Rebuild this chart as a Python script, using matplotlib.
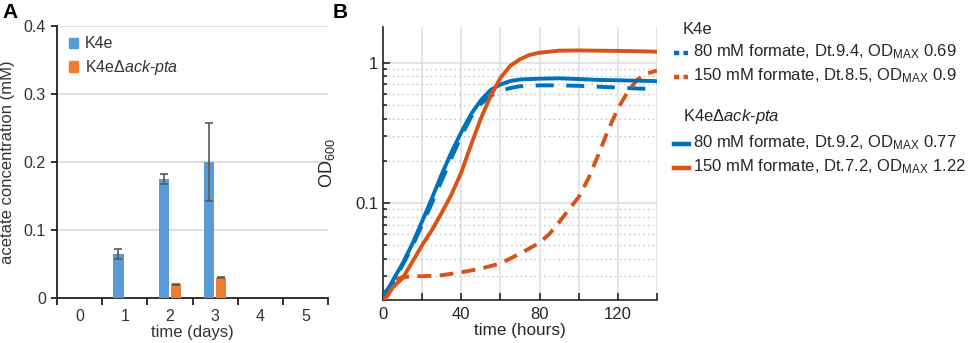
import matplotlib
matplotlib.use("Agg")
import matplotlib.pyplot as plt
import numpy as np
from matplotlib.patches import Patch
from matplotlib.lines import Line2D
from matplotlib.ticker import LogLocator, NullFormatter

plt.rcParams['font.family'] = ['Liberation Sans', 'DejaVu Sans']
plt.rcParams['mathtext.fontset'] = 'custom'
plt.rcParams['mathtext.rm'] = 'Liberation Sans'
plt.rcParams['mathtext.it'] = 'Liberation Sans:italic'
plt.rcParams['lines.scale_dashes'] = False

# ---- panel A data (acetate) ----
days = [0, 1, 2, 3, 4, 5]
k4e_acetate = [0, 0.065, 0.175, 0.200, 0, 0]
k4e_acetate_err = [0, 0.007, 0.008, 0.057, 0, 0]
dack_acetate = [0, 0, 0.020, 0.030, 0, 0]
dack_acetate_err = [0, 0, 0.001, 0.001, 0, 0]
acetate_yticks = [0, 0.1, 0.2, 0.3, 0.4]
acetate_yticklabels = ["0", "0.1", "0.2", "0.3", "0.4"]

# ---- panel B data (growth curves, OD600) ----
t_k4e_80 = [0, 5, 10, 15, 20, 25, 30, 35, 40, 45, 50, 55, 60, 65, 70, 80, 90, 100, 110, 120, 130, 140]
od_k4e_80 = [0.022, 0.027, 0.036, 0.049, 0.070, 0.10, 0.145, 0.21, 0.30, 0.41, 0.51, 0.58, 0.63,
             0.66, 0.68, 0.69, 0.69, 0.685, 0.675, 0.665, 0.655, 0.65]

t_k4e_150 = [0, 2.5, 5, 8, 10, 15, 20, 30, 40, 50, 60, 70, 80, 85, 90, 95, 100, 105, 110, 115,
             120, 125, 130, 135, 140]
od_k4e_150 = [0.021, 0.024, 0.027, 0.029, 0.0295, 0.030, 0.030, 0.0305, 0.032, 0.034, 0.037,
              0.0435, 0.052, 0.060, 0.073, 0.090, 0.11, 0.15, 0.22, 0.33, 0.47, 0.62, 0.76, 0.84, 0.88]

t_dack_80 = [0, 2.5, 5, 10, 15, 20, 25, 30, 35, 40, 45, 50, 55, 60, 65, 70, 80, 90, 100, 110, 120, 130, 140]
od_dack_80 = [0.022, 0.024, 0.028, 0.037, 0.051, 0.074, 0.108, 0.16, 0.23, 0.32, 0.43, 0.54, 0.64,
              0.70, 0.74, 0.76, 0.77, 0.775, 0.765, 0.755, 0.75, 0.745, 0.74]

t_dack_150 = [0, 2.5, 5, 10, 15, 20, 25, 30, 35, 40, 45, 50, 55, 60, 65, 70, 75, 80, 90, 100,
              110, 120, 130, 140]
od_dack_150 = [0.020, 0.022, 0.025, 0.029, 0.038, 0.05, 0.064, 0.085, 0.115, 0.165, 0.26, 0.40,
               0.58, 0.78, 0.95, 1.06, 1.14, 1.18, 1.22, 1.225, 1.22, 1.215, 1.21, 1.20]

hour_ticks = [0, 20, 40, 60, 80, 100, 120, 140]
hour_labels = ["0", "", "40", "", "80", "", "120", ""]

BAR_BLUE = '#5B9BD5'
BAR_ORANGE = '#ED7D31'
ML_BLUE = '#0072BD'
ML_ORANGE = '#D95319'
W, H = 969, 343

fig = plt.figure(figsize=(W / 100, H / 100), dpi=100)

# ================= panel A =================
ax1 = fig.add_axes([57 / W, 1 - 298 / H, (328 - 57) / W, (298 - 26) / H])
x = np.arange(len(days))
bw = 0.225
ax1.bar(x - 0.14, k4e_acetate, bw, color=BAR_BLUE, zorder=3)
ax1.bar(x + 0.14, dack_acetate, bw, color=BAR_ORANGE, zorder=3)
for xs, vals, errs in [(x - 0.14, k4e_acetate, k4e_acetate_err), (x + 0.14, dack_acetate, dack_acetate_err)]:
    m = np.array(vals) > 0
    ax1.errorbar(xs[m], np.array(vals)[m], yerr=np.array(errs)[m], fmt='none',
                 ecolor='#595959', elinewidth=1.2, capsize=3, capthick=1.2, zorder=4)

ax1.set_xlim(-0.5, 5.5)
ax1.set_ylim(0, 0.4)
ax1.set_xticks(x)
ax1.set_xticklabels([str(d) for d in days])
ax1.set_xticks(np.arange(-0.5, 6, 1), minor=True)
ax1.set_yticks(acetate_yticks)
ax1.set_yticklabels(acetate_yticklabels)
ax1.tick_params(axis='x', which='major', length=0, pad=8, labelsize=11.5, labelcolor='#333333')
ax1.tick_params(axis='x', which='minor', length=5, width=1.3, direction='out', color='#222222')
ax1.tick_params(axis='y', length=4, width=1.3, direction='out', labelsize=11.5,
                labelcolor='#333333', color='#222222', pad=4)
ax1.grid(axis='y', color='#d9d9d9', lw=1.2, zorder=0)
for s in ['top', 'right']:
    ax1.spines[s].set_visible(False)
for s in ['left', 'bottom']:
    ax1.spines[s].set_color('#222222')
    ax1.spines[s].set_linewidth(1.3)
ax1.set_xlabel('time (days)', fontsize=12, color='#333333', labelpad=1)
ax1.set_ylabel('acetate concentration (mM)', fontsize=12, color='#333333', labelpad=6)
leg = ax1.legend(handles=[Patch(color=BAR_BLUE, label='K4e'),
                          Patch(color=BAR_ORANGE, label='K4eΔ$\\mathit{ack}$-$\\mathit{pta}$')],
                 loc='upper left', bbox_to_anchor=(0.02, 0.985), frameon=False, fontsize=11.5,
                 handlelength=0.6, handleheight=0.6, handletextpad=0.4, labelspacing=0.42,
                 borderaxespad=0)
for t in leg.get_texts():
    t.set_color('#333333')

# ================= panel B =================
ax2 = fig.add_axes([383 / W, 1 - 300 / H, (657 - 383) / W, (300 - 27) / H])
ax2.set_yscale('log')
ax2.plot(t_k4e_80, od_k4e_80, color=ML_BLUE, lw=2.8, dashes=(13, 9), zorder=3)
ax2.plot(t_k4e_150, od_k4e_150, color=ML_ORANGE, lw=2.8, dashes=(10, 6), zorder=3)
ax2.plot(t_dack_80, od_dack_80, color=ML_BLUE, lw=2.8, zorder=4, solid_capstyle='round')
ax2.plot(t_dack_150, od_dack_150, color=ML_ORANGE, lw=2.8, zorder=4, solid_capstyle='round')

ax2.set_xlim(0, 140)
ax2.set_ylim(0.0203, 1.8)
ax2.set_xticks(hour_ticks)
ax2.set_xticklabels(hour_labels)
ax2.set_yticks([0.1, 1])
ax2.set_yticklabels(['0.1', '1'])
ax2.yaxis.set_minor_locator(LogLocator(base=10, subs=np.arange(2, 10)))
ax2.yaxis.set_minor_formatter(NullFormatter())
ax2.tick_params(which='both', direction='in', color='#262626', width=1.2)
ax2.tick_params(which='major', length=5, labelsize=12, labelcolor='#262626')
ax2.tick_params(which='minor', length=3)
ax2.tick_params(axis='x', pad=5)
ax2.grid(which='major', color='#e0e0e0', lw=1.2, zorder=0)
ax2.grid(which='minor', axis='y', color='#c8c8c8', lw=1.0, linestyle=(0, (1.2, 2.2)), zorder=0)
for s in ['top', 'right']:
    ax2.spines[s].set_visible(False)
for s in ['left', 'bottom']:
    ax2.spines[s].set_color('#262626')
    ax2.spines[s].set_linewidth(1.2)
ax2.set_xlabel('time (hours)', fontsize=12.3, color='#262626', labelpad=1)
ax2.set_ylabel('OD$_{600}$', fontsize=13, color='#262626', labelpad=13)

# ---- manual legend for panel B ----
def fx(px):
    return px / W

def fy(py):
    return 1 - py / H

legend_rows = [
    ('K4e', None, None, 30),
    ('80 mM formate, Dt.9.4, OD$_{\\rm MAX}$ 0.69', ML_BLUE, 'dash', 52),
    ('150 mM formate, Dt.8.5, OD$_{\\rm MAX}$ 0.9', ML_ORANGE, 'dash', 76),
    ('K4eΔ$\\mathit{ack}$-$\\mathit{pta}$', None, None, 117),
    ('80 mM formate, Dt.9.2, OD$_{\\rm MAX}$ 0.77', ML_BLUE, 'solid', 143),
    ('150 mM formate, Dt.7.2, OD$_{\\rm MAX}$ 1.22', ML_ORANGE, 'solid', 167),
]
for label, col, style, py in legend_rows:
    if col is None:
        fig.text(fx(683), fy(py), label, fontsize=12, color='#262626', va='center', ha='left')
    else:
        if style == 'dash':
            ln = Line2D([fx(674), fx(688)], [fy(py + 1), fy(py + 1)], transform=fig.transFigure,
                        color=col, lw=3.2, dashes=(3.8, 3))
        else:
            ln = Line2D([fx(674), fx(689)], [fy(py + 1), fy(py + 1)], transform=fig.transFigure,
                        color=col, lw=3.2)
        fig.add_artist(ln)
        fig.text(fx(693), fy(py), label, fontsize=12, color='#262626', va='center', ha='left')

# panel letters
fig.text(fx(2), fy(12), 'A', fontsize=15, fontweight='bold', va='center', ha='left')
fig.text(fx(333), fy(12), 'B', fontsize=15, fontweight='bold', va='center', ha='left')

fig.savefig('out.png', dpi=100)
